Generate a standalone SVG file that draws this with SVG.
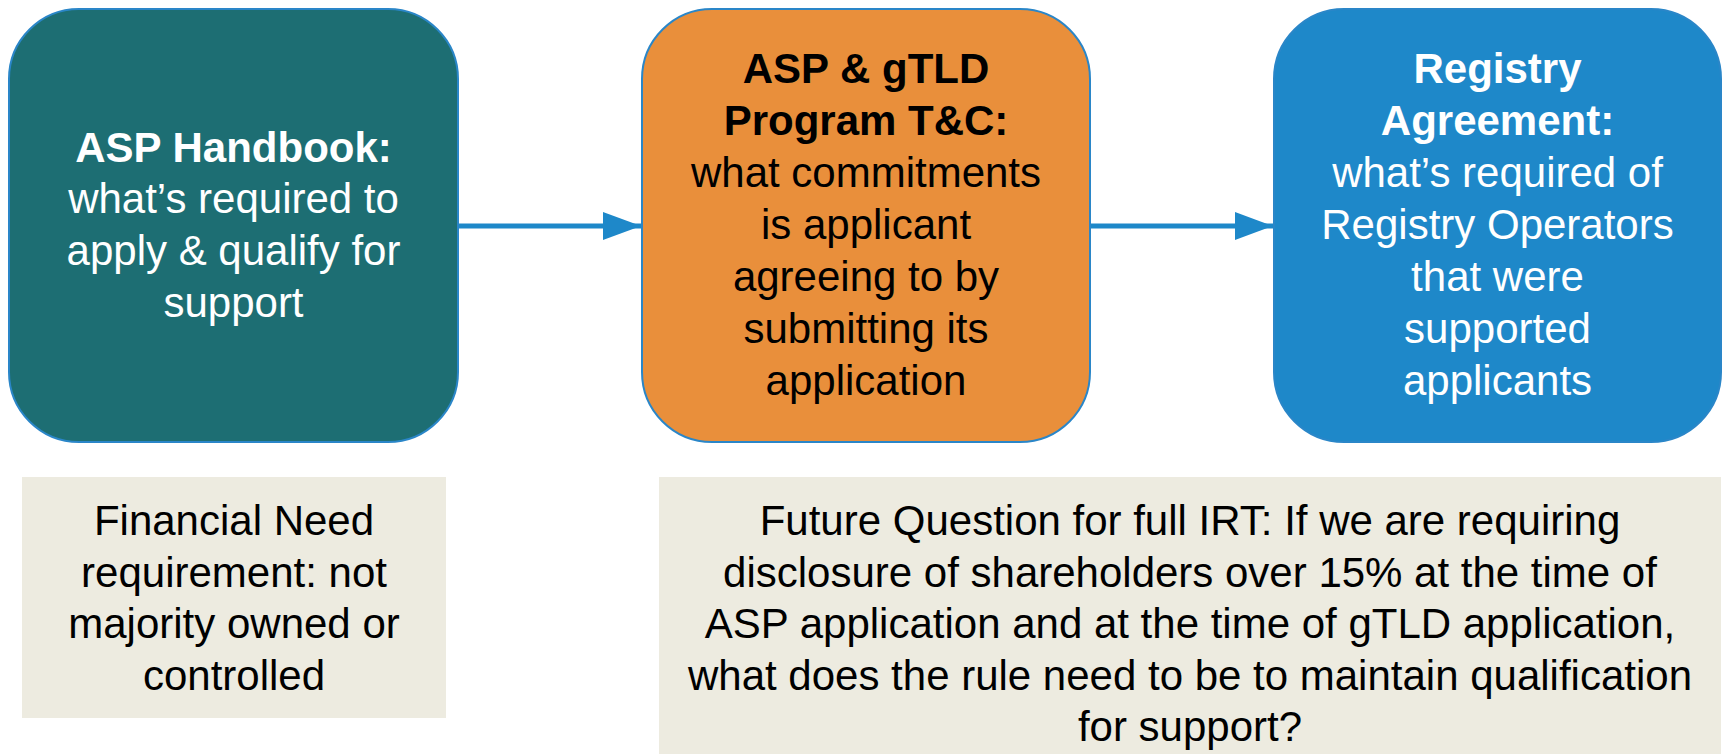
<svg xmlns="http://www.w3.org/2000/svg" width="1727" height="754" viewBox="0 0 1727 754">
<defs>
<style>
.box{stroke:#2A86C8;stroke-width:2}
.t{font-family:"Liberation Sans",Arial,sans-serif;font-size:42px;text-anchor:middle}
.b{font-weight:bold}
.w{fill:#FFFFFF}
.k{fill:#000000}
.note{fill:#EDEBE0}
.conn{stroke:#1E88C9;stroke-width:5;fill:none}
</style>
<marker id="ah" markerUnits="userSpaceOnUse" markerWidth="40" markerHeight="30" refX="38" refY="14" orient="auto">
<path d="M0,0 L38,14 L0,28 Z" fill="#1E88C9"/>
</marker>
</defs>
<rect width="1727" height="754" fill="#FFFFFF"/>
<g id="connectors">
<line class="conn" x1="458" y1="226" x2="641" y2="226" marker-end="url(#ah)"/>
<line class="conn" x1="1090" y1="226" x2="1273" y2="226" marker-end="url(#ah)"/>
</g>
<g id="asp-handbook">
<rect class="box" x="9" y="9" width="449" height="433" rx="70" ry="70" fill="#1D6E73"/>
<text class="t w b" x="233.5" y="162">ASP Handbook:</text>
<text class="t w" x="233.5" y="213">what’s required to</text>
<text class="t w" x="233.5" y="265">apply &amp; qualify for</text>
<text class="t w" x="233.5" y="317">support</text>
</g>
<g id="program-tc">
<rect class="box" x="642" y="9" width="448" height="433" rx="70" ry="70" fill="#E98F3B"/>
<text class="t k b" x="866" y="83">ASP &amp; gTLD</text>
<text class="t k b" x="866" y="135">Program T&amp;C:</text>
<text class="t k" x="866" y="187">what commitments</text>
<text class="t k" x="866" y="239">is applicant</text>
<text class="t k" x="866" y="291">agreeing to by</text>
<text class="t k" x="866" y="343">submitting its</text>
<text class="t k" x="866" y="395">application</text>
</g>
<g id="registry-agreement">
<rect class="box" x="1274" y="9" width="447" height="433" rx="70" ry="70" fill="#1E88C9"/>
<text class="t w b" x="1497.5" y="83">Registry</text>
<text class="t w b" x="1497.5" y="135">Agreement:</text>
<text class="t w" x="1497.5" y="187">what’s required of</text>
<text class="t w" x="1497.5" y="239">Registry Operators</text>
<text class="t w" x="1497.5" y="291">that were</text>
<text class="t w" x="1497.5" y="343">supported</text>
<text class="t w" x="1497.5" y="395">applicants</text>
</g>
<g id="financial-need">
<rect class="note" x="22" y="477" width="424" height="241"/>
<text class="t k" x="234" y="535">Financial Need</text>
<text class="t k" x="234" y="587">requirement: not</text>
<text class="t k" x="234" y="638">majority owned or</text>
<text class="t k" x="234" y="690">controlled</text>
</g>
<g id="future-question">
<rect class="note" x="659" y="477" width="1062" height="277"/>
<text class="t k" x="1190" y="535">Future Question for full IRT: If we are requiring</text>
<text class="t k" x="1190" y="587">disclosure of shareholders over 15% at the time of</text>
<text class="t k" x="1190" y="638">ASP application and at the time of gTLD application,</text>
<text class="t k" x="1190" y="690">what does the rule need to be to maintain qualification</text>
<text class="t k" x="1190" y="741">for support?</text>
</g>
</svg>
